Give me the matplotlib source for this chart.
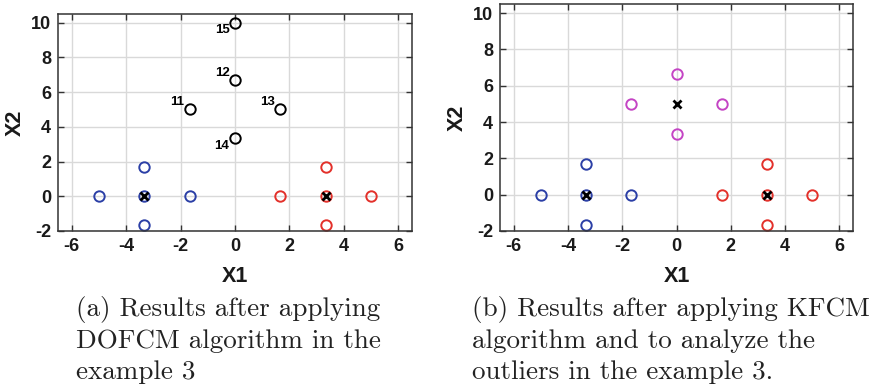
import matplotlib
matplotlib.use("Agg")
import matplotlib.pyplot as plt

plt.rcParams["axes.unicode_minus"] = False
plt.rcParams["font.family"] = ["Liberation Sans", "DejaVu Sans"]
plt.rcParams["font.weight"] = "bold"

# Data
blue_x = [-5.0, -3.33, -1.67, -3.33, -3.33]
blue_y = [0.0, 0.0, 0.0, 1.67, -1.67]
red_x = [1.67, 3.33, 5.0, 3.33, 3.33]
red_y = [0.0, 0.0, 0.0, 1.67, -1.67]
out_x = [-1.67, 0.0, 1.67, 0.0, 0.0]
out_y = [5.0, 6.67, 5.0, 3.33, 10.0]
out_labels = ["11", "12", "13", "14", "15"]
mag_x = [-1.67, 0.0, 1.67, 0.0]
mag_y = [5.0, 6.67, 5.0, 3.33]
centers_a_x = [-3.33, 3.33]
centers_a_y = [0.0, 0.0]
centers_b_x = [-3.33, 3.33, 0.0]
centers_b_y = [0.0, 0.0, 5.0]
xticks = [-6, -4, -2, 0, 2, 4, 6]
yticks = [-2, 0, 2, 4, 6, 8, 10]

BLUE = "#2b3fa6"
RED = "#e3302a"
MAG = "#c444c4"

fig = plt.figure(figsize=(8.77, 3.87), dpi=100)
W, H = 877, 387

def make_ax(l, r, t, b):
    ax = fig.add_axes([l / W, 1 - b / H, (r - l) / W, (b - t) / H])
    ax.set_xlim(-6.5, 6.5)
    ax.set_ylim(-2, 10.5)
    ax.set_xticks(xticks)
    ax.set_yticks(yticks)
    ax.grid(True, color="#d9d9d9", linewidth=1.0)
    ax.set_axisbelow(True)
    ax.tick_params(direction="in", top=True, right=True, length=4, width=1,
                   color="#333333", labelsize=13, pad=5, labelcolor="#1a1a1a")
    for lab in ax.get_xticklabels() + ax.get_yticklabels():
        lab.set_fontweight("bold")
    for s in ax.spines.values():
        s.set_color("#333333")
        s.set_linewidth(1.1)
    ax.set_xlabel("X1", fontsize=15.5, fontweight="bold", labelpad=8, color="#1a1a1a")
    ax.set_ylabel("X2", fontsize=15.5, fontweight="bold", labelpad=4, color="#1a1a1a")
    return ax

mk = dict(marker="o", linestyle="none", markersize=7.5, markerfacecolor="none", markeredgewidth=1.4)

ax1 = make_ax(58, 412, 14, 231)
ax1.plot(blue_x, blue_y, markeredgecolor=BLUE, **mk)
ax1.plot(red_x, red_y, markeredgecolor=RED, **mk)
ax1.plot(out_x, out_y, markeredgecolor="black", **mk)
ax1.plot(centers_a_x, centers_a_y, marker="x", linestyle="none", color="black",
         markersize=5.5, markeredgewidth=2)
offsets = {"11": (-4, 1, "right", "bottom"), "12": (-4, 1, "right", "bottom"),
           "13": (-4, 1, "right", "bottom"), "14": (-4, -1, "right", "top"),
           "15": (-4, -1, "right", "top")}
for x, y, lab in zip(out_x, out_y, out_labels):
    dx, dy, ha, va = offsets[lab]
    ax1.annotate(lab, (x, y), xytext=(dx, dy), textcoords="offset points",
                 ha=ha, va=va, fontsize=9.5, fontweight="bold")

ax2 = make_ax(500, 853, 4, 231)
ax2.plot(blue_x, blue_y, markeredgecolor=BLUE, **mk)
ax2.plot(red_x, red_y, markeredgecolor=RED, **mk)
ax2.plot(mag_x, mag_y, markeredgecolor=MAG, **mk)
ax2.plot(centers_b_x, centers_b_y, marker="x", linestyle="none", color="black",
         markersize=5.5, markeredgewidth=2)

cap_a = ["(a) Results after applying", "DOFCM algorithm in the", "example 3"]
cap_b = ["(b) Results after applying KFCM", "algorithm and to analyze the",
         "outliers in the example 3."]
line_y = [316, 348, 379]
for txt, y in zip(cap_a, line_y):
    fig.text(76 / W, 1 - y / H, txt, fontsize=19.5, family="cmr10", fontweight="normal",
             va="baseline", ha="left", color="#222222")
for txt, y in zip(cap_b, line_y):
    fig.text(472 / W, 1 - y / H, txt, fontsize=19.5, family="cmr10", fontweight="normal",
             va="baseline", ha="left", color="#222222")

fig.savefig("out.png", dpi=100)
